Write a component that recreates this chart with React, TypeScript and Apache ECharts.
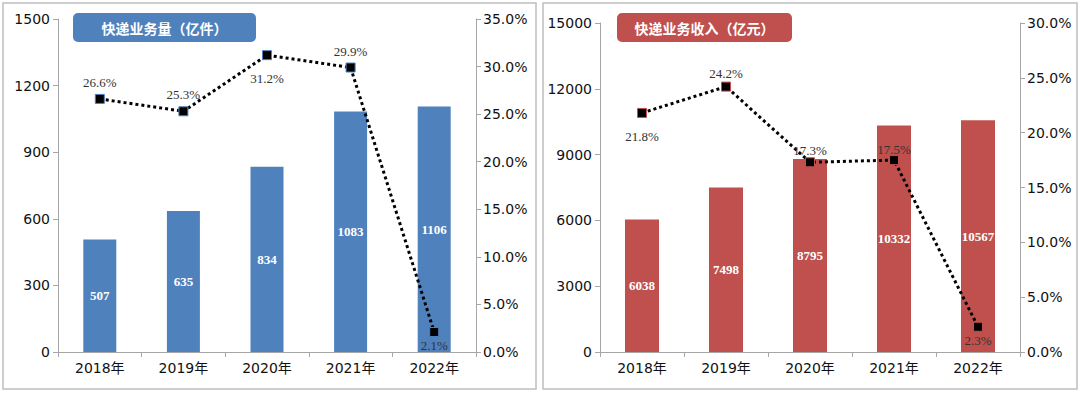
import React, { useEffect, useRef } from "react";
import * as echarts from "echarts";

const years = ["2018年", "2019年", "2020年", "2021年", "2022年"];
const volume = [507, 635, 834, 1083, 1106];
const volumeGrowth = [26.6, 25.3, 31.2, 29.9, 2.1];
const revenue = [6038, 7498, 8795, 10332, 10567];
const revenueGrowth = [21.8, 24.2, 17.3, 17.5, 2.3];
const titleLeft = "快递业务量（亿件）";
const titleRight = "快递业务收入（亿元）";

const volLabelPos = ["top", "top", "bottom", "top", "bottom"];
const volLabelDist = [5, 5, 12, 5, 2];
const revLabelPos = ["bottom", "top", "top", "top", "bottom"];
const revLabelDist = [12, 2, 0, -1, 2];

const BLUE = "#4F81BD";
const RED = "#C0504D";
const AXIS = "#A6A6A6";
const SANS = "'DejaVu Sans', 'Noto Sans CJK SC', sans-serif";
const SERIF = "'Liberation Serif', 'Times New Roman', serif";

export default function App() {
  const ref = useRef<HTMLDivElement>(null);
  useEffect(() => {
    document.body.style.margin = "0";
    const chart = echarts.init(ref.current!, null, { renderer: "svg" });
    const axisLabel = { color: "#111111", fontSize: 14, fontFamily: SANS };
    const yAxisBase = (gridIndex: number, position: string) => ({
      type: "value",
      gridIndex,
      position,
      axisLine: { show: true, lineStyle: { color: AXIS, width: 1 } },
      axisTick: { show: true, length: 5, lineStyle: { color: AXIS } },
      splitLine: { show: false },
    });
    const xAxisBase = (gridIndex: number) => ({
      type: "category",
      gridIndex,
      data: years,
      boundaryGap: true,
      axisLine: { show: true, lineStyle: { color: AXIS, width: 1 } },
      axisTick: { show: true, length: 5, alignWithLabel: false, lineStyle: { color: AXIS } },
      axisLabel: { ...axisLabel, margin: 9 },
    });
    const lineData = (vals: number[], pos: string[], dist: number[]) =>
      vals.map((v, i) => ({
        value: v,
        label: { position: pos[i], distance: dist[i] },
      }));
    const barLabel = {
      show: true,
      position: "inside",
      color: "#ffffff",
      fontWeight: "bold",
      fontSize: 13,
      fontFamily: SERIF,
    };
    const lineLabel = {
      show: true,
      color: "#333333",
      fontSize: 13,
      fontFamily: SERIF,
      formatter: (p: any) => p.value.toFixed(1) + "%",
    };
    const plain = (v: number) => String(v);
    const pct = (v: number) => v.toFixed(1) + "%";
    chart.setOption({
      animation: false,
      backgroundColor: "#ffffff",
      grid: [
        { left: 58, right: 604, top: 19, bottom: 43 },
        { left: 600, right: 60, top: 23, bottom: 43 },
      ],
      xAxis: [xAxisBase(0), xAxisBase(1)],
      yAxis: [
        { ...yAxisBase(0, "left"), min: 0, max: 1500, interval: 300, axisLabel: { ...axisLabel, margin: 8, formatter: plain } },
        { ...yAxisBase(0, "right"), min: 0, max: 35, interval: 5, axisLabel: { ...axisLabel, margin: 7, formatter: pct } },
        { ...yAxisBase(1, "left"), min: 0, max: 15000, interval: 3000, axisLabel: { ...axisLabel, margin: 8, formatter: plain } },
        { ...yAxisBase(1, "right"), min: 0, max: 30, interval: 5, axisLabel: { ...axisLabel, margin: 7, formatter: pct } },
      ],
      series: [
        {
          type: "bar",
          xAxisIndex: 0,
          yAxisIndex: 0,
          data: volume,
          barWidth: 33,
          itemStyle: { color: BLUE },
          label: barLabel,
        },
        {
          type: "line",
          xAxisIndex: 0,
          yAxisIndex: 1,
          data: lineData(volumeGrowth, volLabelPos, volLabelDist),
          symbol: "rect",
          symbolSize: 9,
          itemStyle: { color: "#000000", borderColor: BLUE, borderWidth: 1 },
          lineStyle: { color: "#000000", width: 3, type: "dotted" },
          label: lineLabel,
          z: 5,
        },
        {
          type: "bar",
          xAxisIndex: 1,
          yAxisIndex: 2,
          data: revenue,
          barWidth: 34,
          itemStyle: { color: RED },
          label: barLabel,
        },
        {
          type: "line",
          xAxisIndex: 1,
          yAxisIndex: 3,
          data: lineData(revenueGrowth, revLabelPos, revLabelDist),
          symbol: "rect",
          symbolSize: 9,
          itemStyle: { color: "#000000", borderColor: RED, borderWidth: 1 },
          lineStyle: { color: "#000000", width: 3, type: "dotted" },
          label: lineLabel,
          z: 5,
        },
      ],
      graphic: [
        {
          type: "rect",
          shape: { x: 3, y: 3, width: 533, height: 386 },
          style: { fill: "none", stroke: "#BFBFBF", lineWidth: 1.5 },
          silent: true,
        },
        {
          type: "rect",
          shape: { x: 543, y: 3, width: 534, height: 386 },
          style: { fill: "none", stroke: "#BFBFBF", lineWidth: 1.5 },
          silent: true,
        },
        {
          type: "rect",
          shape: { x: 73, y: 13, width: 183, height: 29, r: 5 },
          style: { fill: BLUE },
          z: 10,
        },
        {
          type: "text",
          x: 164.5,
          y: 27.5,
          style: {
            text: titleLeft,
            fill: "#ffffff",
            fontSize: 14,
            fontWeight: "bold",
            fontFamily: "'Noto Sans CJK SC', sans-serif",
            align: "center",
            verticalAlign: "middle",
          },
          z: 11,
        },
        {
          type: "rect",
          shape: { x: 617, y: 13, width: 175, height: 29, r: 5 },
          style: { fill: RED },
          z: 10,
        },
        {
          type: "text",
          x: 704.5,
          y: 27.5,
          style: {
            text: titleRight,
            fill: "#ffffff",
            fontSize: 14,
            fontWeight: "bold",
            fontFamily: "'Noto Sans CJK SC', sans-serif",
            align: "center",
            verticalAlign: "middle",
          },
          z: 11,
        },
      ],
    });
    return () => chart.dispose();
  }, []);
  return <div ref={ref} style={{ width: 1080, height: 395 }} />;
}
